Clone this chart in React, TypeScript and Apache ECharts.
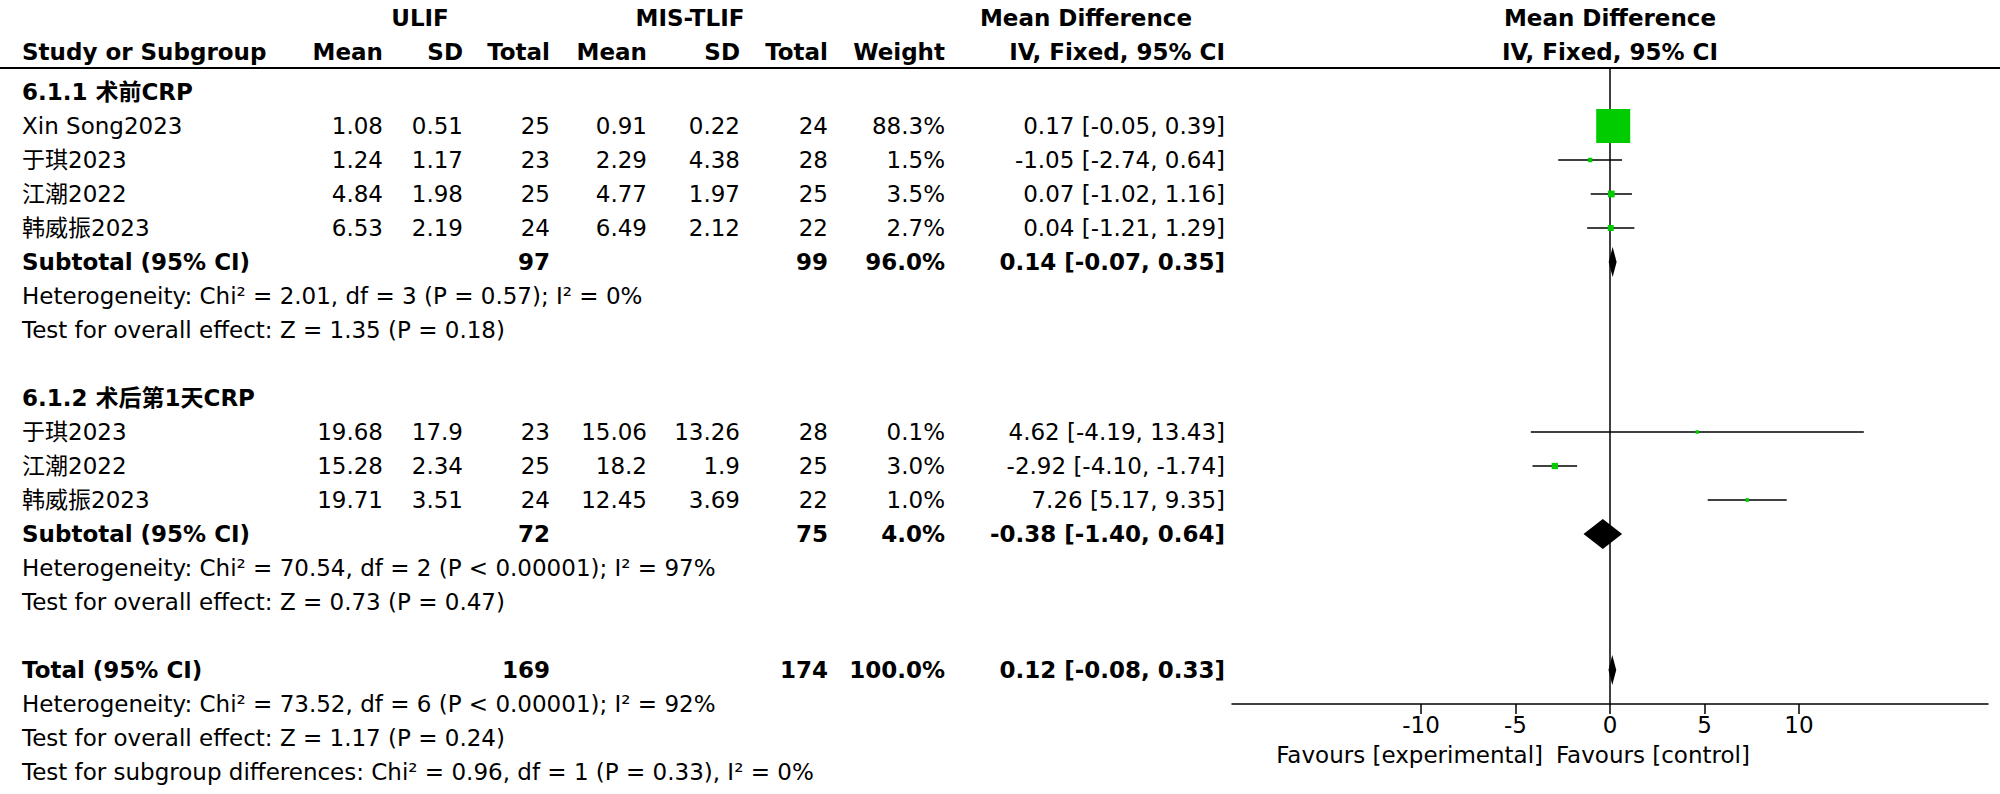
import React, { useEffect, useRef } from "react";
import * as echarts from "echarts";

const FONT = '"DejaVu Sans", "Noto Sans CJK SC", sans-serif';
const FS = 23;

// ---- data ----
const GROUP_TITLES = ["6.1.1 术前CRP", "6.1.2 术后第1天CRP"];
const STUDY_NAMES = ["Xin Song2023", "于琪2023", "江潮2022", "韩威振2023", "于琪2023", "江潮2022", "韩威振2023"];
const STUDY_GROUP = [0, 0, 0, 0, 1, 1, 1];
const ULIF_MEAN = [1.08, 1.24, 4.84, 6.53, 19.68, 15.28, 19.71];
const ULIF_SD = [0.51, 1.17, 1.98, 2.19, 17.9, 2.34, 3.51];
const ULIF_N = [25, 23, 25, 24, 23, 25, 24];
const MIS_MEAN = [0.91, 2.29, 4.77, 6.49, 15.06, 18.2, 12.45];
const MIS_SD = [0.22, 4.38, 1.97, 2.12, 13.26, 1.9, 3.69];
const MIS_N = [24, 28, 25, 22, 28, 25, 22];
const WEIGHT = [88.3, 1.5, 3.5, 2.7, 0.1, 3.0, 1.0];
const MD = [0.17, -1.05, 0.07, 0.04, 4.62, -2.92, 7.26];
const CI_LO = [-0.05, -2.74, -1.02, -1.21, -4.19, -4.1, 5.17];
const CI_HI = [0.39, 0.64, 1.16, 1.29, 13.43, -1.74, 9.35];

const SUB_LABELS = ["Subtotal (95% CI)", "Subtotal (95% CI)", "Total (95% CI)"];
const SUB_ULIF_N = [97, 72, 169];
const SUB_MIS_N = [99, 75, 174];
const SUB_WEIGHT = [96.0, 4.0, 100.0];
const SUB_MD = [0.14, -0.38, 0.12];
const SUB_LO = [-0.07, -1.4, -0.08];
const SUB_HI = [0.35, 0.64, 0.33];

const STAT_LINES = [
  ["Heterogeneity: Chi² = 2.01, df = 3 (P = 0.57); I² = 0%", "Test for overall effect: Z = 1.35 (P = 0.18)"],
  ["Heterogeneity: Chi² = 70.54, df = 2 (P < 0.00001); I² = 97%", "Test for overall effect: Z = 0.73 (P = 0.47)"],
  [
    "Heterogeneity: Chi² = 73.52, df = 6 (P < 0.00001); I² = 92%",
    "Test for overall effect: Z = 1.17 (P = 0.24)",
    "Test for subgroup differences: Chi² = 0.96, df = 1 (P = 0.33), I² = 0%",
  ],
];

const X_TICKS = [-10, -5, 0, 5, 10];
const X_MIN = -20;
const X_MAX = 20;

// ---- layout ----
const W = 2000;
const H = 794;
const ROW_H = 34;
const ROW0_Y = 92;
const LINE_Y = 68;
const AXIS_Y = 704;
const PLOT_LEFT = 1232;
const PLOT_RIGHT = 1988;
const ZERO_X = 1610;
const COL = {
  name: 22,
  m1: 383,
  sd1: 463,
  n1: 550,
  m2: 647,
  sd2: 740,
  n2: 828,
  w: 945,
  ci: 1225,
};

const f = (v: number, d = 2) => v.toFixed(d);
const ciText = (m: number, l: number, h: number) => `${f(m)} [${f(l)}, ${f(h)}]`;

type Cell = { row: number; x: number; align: string; text: string; bold?: boolean };

function buildCells(): { cells: Cell[]; studyRows: number[]; subRows: number[] } {
  const cells: Cell[] = [];
  const studyRows: number[] = [];
  const subRows: number[] = [];
  let row = 0;
  for (let g = 0; g < 2; g++) {
    cells.push({ row, x: COL.name, align: "left", text: GROUP_TITLES[g], bold: true });
    row++;
    for (let i = 0; i < STUDY_NAMES.length; i++) {
      if (STUDY_GROUP[i] !== g) continue;
      studyRows.push(row);
      cells.push({ row, x: COL.name, align: "left", text: STUDY_NAMES[i] });
      cells.push({ row, x: COL.m1, align: "right", text: String(ULIF_MEAN[i]) });
      cells.push({ row, x: COL.sd1, align: "right", text: String(ULIF_SD[i]) });
      cells.push({ row, x: COL.n1, align: "right", text: String(ULIF_N[i]) });
      cells.push({ row, x: COL.m2, align: "right", text: String(MIS_MEAN[i]) });
      cells.push({ row, x: COL.sd2, align: "right", text: String(MIS_SD[i]) });
      cells.push({ row, x: COL.n2, align: "right", text: String(MIS_N[i]) });
      cells.push({ row, x: COL.w, align: "right", text: f(WEIGHT[i], 1) + "%" });
      cells.push({ row, x: COL.ci, align: "right", text: ciText(MD[i], CI_LO[i], CI_HI[i]) });
      row++;
    }
    subRows.push(row);
    row++;
    for (const s of STAT_LINES[g]) {
      cells.push({ row, x: COL.name, align: "left", text: s });
      row++;
    }
    row++;
  }
  subRows.push(row);
  row++;
  for (const s of STAT_LINES[2]) {
    cells.push({ row, x: COL.name, align: "left", text: s });
    row++;
  }
  subRows.forEach((r, k) => {
    cells.push({ row: r, x: COL.name, align: "left", text: SUB_LABELS[k], bold: true });
    cells.push({ row: r, x: COL.n1, align: "right", text: String(SUB_ULIF_N[k]), bold: true });
    cells.push({ row: r, x: COL.n2, align: "right", text: String(SUB_MIS_N[k]), bold: true });
    cells.push({ row: r, x: COL.w, align: "right", text: f(SUB_WEIGHT[k], 1) + "%", bold: true });
    cells.push({ row: r, x: COL.ci, align: "right", text: ciText(SUB_MD[k], SUB_LO[k], SUB_HI[k]), bold: true });
  });
  return { cells, studyRows, subRows };
}

const font = (bold?: boolean) => `${bold ? "bold " : ""}${FS}px ${FONT}`;

export default function App() {
  const ref = useRef<HTMLDivElement>(null);
  useEffect(() => {
    document.body.style.margin = "0";
    const chart = echarts.init(ref.current!, null, { renderer: "svg" });
    const { cells, studyRows, subRows } = buildCells();
    const yMin = (LINE_Y - ROW0_Y) / ROW_H;
    const yMax = (AXIS_Y - ROW0_Y) / ROW_H;
    const maxW = Math.max(...WEIGHT);
    const BIG = 34;

    const txt = (x: number, y: number, text: string, align: string, bold = true) => ({
      type: "text",
      x,
      y,
      style: {
        text,
        font: font(bold),
        fill: "#000",
        align,
        verticalAlign: "middle",
        textAlign: align,
        textVerticalAlign: "middle",
      },
    });

    chart.setOption({
      animation: false,
      textStyle: { fontFamily: FONT },
      grid: [
        {
          left: PLOT_LEFT,
          width: PLOT_RIGHT - PLOT_LEFT,
          top: LINE_Y,
          height: AXIS_Y - LINE_Y,
          containLabel: false,
        },
      ],
      xAxis: [
        {
          type: "value",
          min: X_MIN,
          max: X_MAX,
          position: "bottom",
          axisLine: { show: true, onZero: false, lineStyle: { color: "#000", width: 1.5 } },
          axisTick: { show: true, customValues: X_TICKS, length: 10, inside: false, lineStyle: { color: "#000", width: 1.5 } },
          axisLabel: {
            show: true,
            customValues: X_TICKS,
            color: "#000",
            fontSize: FS,
            fontFamily: FONT,
            margin: 9,
            formatter: (v: number) => (v < 0 ? "-" + Math.abs(v) : String(v)),
          },
          splitLine: { show: false },
        },
      ],
      yAxis: [
        {
          type: "value",
          inverse: true,
          min: yMin,
          max: yMax,
          axisLine: { show: true, onZero: true, lineStyle: { color: "#000", width: 1.5 } },
          axisTick: { show: false },
          axisLabel: { show: false },
          splitLine: { show: false },
        },
      ],
      graphic: [
        { type: "line", shape: { x1: 0, y1: LINE_Y, x2: W, y2: LINE_Y }, style: { stroke: "#000", lineWidth: 2 } },
        txt(420, 18, "ULIF", "center"),
        txt(690, 18, "MIS-TLIF", "center"),
        txt(1086, 18, "Mean Difference", "center"),
        txt(ZERO_X, 18, "Mean Difference", "center"),
        txt(COL.name, 52, "Study or Subgroup", "left"),
        txt(COL.m1, 52, "Mean", "right"),
        txt(COL.sd1, 52, "SD", "right"),
        txt(COL.n1, 52, "Total", "right"),
        txt(COL.m2, 52, "Mean", "right"),
        txt(COL.sd2, 52, "SD", "right"),
        txt(COL.n2, 52, "Total", "right"),
        txt(COL.w, 52, "Weight", "right"),
        txt(COL.ci, 52, "IV, Fixed, 95% CI", "right"),
        txt(ZERO_X, 52, "IV, Fixed, 95% CI", "center"),
        txt(1543, 755, "Favours [experimental]", "right", false),
        txt(1556, 755, "Favours [control]", "left", false),
      ],
      series: [
        {
          type: "custom",
          name: "table",
          clip: false,
          silent: true,
          data: cells.map((c) => [0, c.row]),
          encode: { x: 0, y: 1 },
          renderItem: (params: any, api: any) => {
            const c = cells[params.dataIndex];
            const y = api.coord([0, api.value(1)])[1];
            return {
              type: "text",
              x: c.x,
              y,
              style: {
                text: c.text,
                font: font(c.bold),
                fill: "#000",
                align: c.align,
                verticalAlign: "middle",
                textAlign: c.align,
                textVerticalAlign: "middle",
              },
            };
          },
        },
        {
          type: "custom",
          name: "studies",
          clip: false,
          silent: true,
          data: MD.map((m, i) => [m, studyRows[i], CI_LO[i], CI_HI[i], WEIGHT[i]]),
          encode: { x: [0, 2, 3], y: 1 },
          renderItem: (params: any, api: any) => {
            const r = api.value(1);
            const p = api.coord([api.value(0), r]);
            const l = api.coord([api.value(2), r]);
            const h = api.coord([api.value(3), r]);
            const s = Math.max(3.5, BIG * Math.sqrt(api.value(4) / maxW));
            return {
              type: "group",
              children: [
                { type: "line", shape: { x1: l[0], y1: p[1], x2: h[0], y2: p[1] }, style: { stroke: "#000", lineWidth: 1.5 } },
                { type: "rect", shape: { x: p[0] - s / 2, y: p[1] - s / 2, width: s, height: s }, style: { fill: "#00cc00" } },
              ],
            };
          },
        },
        {
          type: "custom",
          name: "pooled",
          clip: false,
          silent: true,
          data: SUB_MD.map((m, k) => [m, subRows[k], SUB_LO[k], SUB_HI[k]]),
          encode: { x: [0, 2, 3], y: 1 },
          renderItem: (params: any, api: any) => {
            const r = api.value(1);
            const p = api.coord([api.value(0), r]);
            const l = api.coord([api.value(2), r]);
            const h = api.coord([api.value(3), r]);
            const hh = 15;
            return {
              type: "polygon",
              shape: { points: [[l[0], p[1]], [p[0], p[1] - hh], [h[0], p[1]], [p[0], p[1] + hh]] },
              style: { fill: "#000" },
            };
          },
        },
      ],
    });
    return () => chart.dispose();
  }, []);
  return <div ref={ref} style={{ width: W, height: H, position: "absolute", left: 0, top: 0 }} />;
}
